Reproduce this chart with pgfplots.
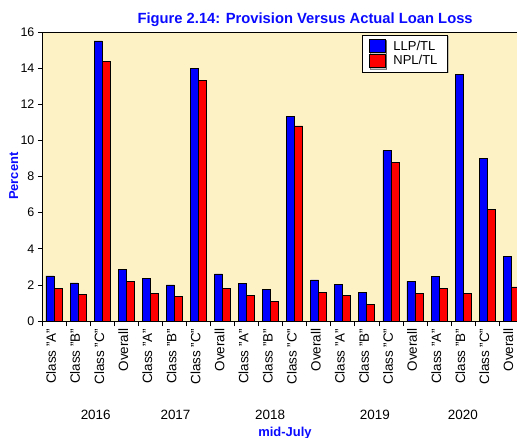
\documentclass[border=0pt]{standalone}
\usepackage{pgfplots}
\usepackage{pgfplotstable}
\pgfplotsset{compat=1.18}
\usetikzlibrary{shadows}
\usepackage{fontspec}
\setmainfont{Liberation Sans}
\definecolor{plotbg}{RGB}{252,242,198}
\definecolor{titleblue}{RGB}{10,10,255}

% provision (LLP/TL) and actual loss (NPL/TL), percent, mid-July
\pgfplotstableread{
x llp npl
0 2.50 1.82
1 2.11 1.47
2 15.50 14.36
3 2.87 2.19
4 2.37 1.54
5 2.00 1.36
6 14.00 13.33
7 2.61 1.80
8 2.08 1.40
9 1.75 1.09
10 11.31 10.80
11 2.28 1.58
12 2.04 1.42
13 1.58 0.92
14 9.43 8.79
15 2.19 1.53
16 2.46 1.80
17 13.66 1.53
18 8.98 6.16
19 3.57 1.89
}\loandata

\begin{document}
\begin{tikzpicture}
\useasboundingbox (-42pt,-117pt) rectangle (476.5pt,322pt);
\begin{axis}[
    scale only axis,
    width=476.5pt, height=290pt,
    xmin=-0.5, xmax=19.24,
    ymin=0, ymax=16,
    ybar=0pt, bar width=8pt,
    axis background/.style={fill=plotbg},
    axis x line=box, axis y line=left,
    axis line style={-, line width=0.7pt},
    xtick pos=left,
    tick align=outside,
    major tick length=4pt, minor tick length=5pt,
    ytick={0,2,...,16},
    xtick={0,...,19},
    xticklabels={Class "A",Class "B",Class "C",Overall,
                 Class "A",Class "B",Class "C",Overall,
                 Class "A",Class "B",Class "C",Overall,
                 Class "A",Class "B",Class "C",Overall,
                 Class "A",Class "B",Class "C",Overall},
    minor xtick={-0.5,0.5,...,18.5},
    major x tick style={draw=none},
    tick style={black, line width=0.7pt},
    xticklabel style={rotate=90, anchor=east, inner ysep=0pt,
                      text height=9.8pt, text depth=5.8pt,
                      font=\fontsize{13.5}{15}\selectfont},
    yticklabel style={font=\fontsize{12.5}{15}\selectfont},
    /pgf/number format/assume math mode=true,
    legend style={at={(0.673,0.99)}, anchor=north west, draw=black, fill=white,
                  drop shadow={shadow xshift=1.5pt, shadow yshift=-1.5pt, fill=black!45},
                  font=\fontsize{13}{15}\selectfont, row sep=0.5pt,
                  inner xsep=7pt, inner ysep=4pt,
                  nodes={inner xsep=3pt, inner ysep=1pt},
                  /tikz/every odd column/.append style={column sep=5pt}},
    legend cell align=left,
    legend image code/.code={\draw[#1, line width=0.7pt] (0pt,-6.75pt) rectangle (16pt,6.75pt);},
]
\addplot[fill=blue, draw=black, line width=0.7pt] table[x=x, y=llp] {\loandata};
\addlegendentry{LLP/TL}
\addplot[fill=red, draw=black, line width=0.7pt] table[x=x, y=npl] {\loandata};
\addlegendentry{NPL/TL}
\end{axis}
\node[anchor=base, text=titleblue, font=\fontsize{14.8}{17}\selectfont\bfseries] at (264pt,298pt) {Figure 2.14: Provision Versus Actual Loan Loss};
\node[anchor=base, rotate=90, text=titleblue, font=\fontsize{13}{15}\selectfont\bfseries] at (-23.7pt,145.3pt) {Percent};
\node[anchor=base, text=titleblue, font=\fontsize{13}{15}\selectfont\bfseries] at (243.8pt,-115.5pt) {mid-July};
\begin{scope}[every node/.style={anchor=base, font=\fontsize{13.5}{15}\selectfont}]
\node at (54pt,-99pt) {2016};
\node at (134pt,-99pt) {2017};
\node at (229pt,-99pt) {2018};
\node at (334pt,-99pt) {2019};
\node at (422.3pt,-99pt) {2020};
\end{scope}
\end{tikzpicture}
\end{document}
